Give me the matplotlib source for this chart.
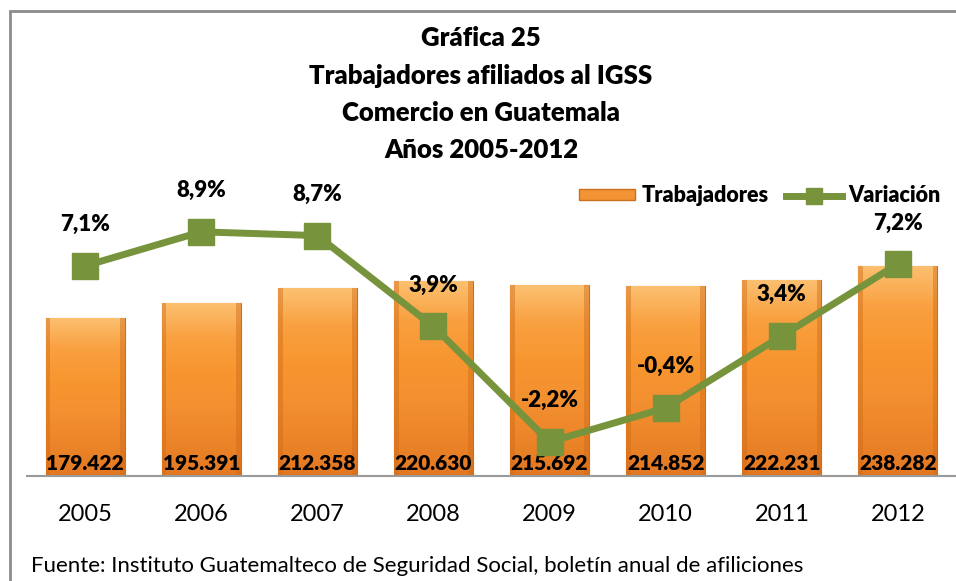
import numpy as np
import matplotlib
matplotlib.use("Agg")
import matplotlib.pyplot as plt
from matplotlib.colors import LinearSegmentedColormap
from matplotlib.lines import Line2D
from matplotlib.patches import Patch, Rectangle

plt.rcParams['font.family'] = ['Lato', 'DejaVu Sans']

years = ['2005', '2006', '2007', '2008', '2009', '2010', '2011', '2012']
trabajadores = [179422, 195391, 212358, 220630, 215692, 214852, 222231, 238282]
variacion = [7.1, 8.9, 8.7, 3.9, -2.2, -0.4, 3.4, 7.2]
bar_labels = ['179.422', '195.391', '212.358', '220.630', '215.692', '214.852', '222.231', '238.282']
var_labels = ['7,1%', '8,9%', '8,7%', '3,9%', '-2,2%', '-0,4%', '3,4%', '7,2%']

green = '#77933C'
fig = plt.figure(figsize=(9.56, 5.81), dpi=100)

# chart border (top and left visible)
fig.add_artist(Rectangle((9.5 / 956, -0.1), 1.2, 1 - 10.5 / 581 + 0.1,
                         transform=fig.transFigure, fill=False,
                         edgecolor='#8c8c8c', linewidth=2))

ax = fig.add_axes([27 / 956, 1 - 476 / 581, 929 / 956, 265 / 581])
x = np.arange(len(years))
bars = ax.bar(x, trabajadores, width=0.68, color='#F39333',
              edgecolor='#C8701E', linewidth=0.8, zorder=2)

cmap = LinearSegmentedColormap.from_list(
    'o', ['#FCC070', '#F9A040', '#F7962F', '#F39031', '#EC8529', '#E27822'])
grad = np.linspace(0, 1, 200).reshape(-1, 1)
for b in bars:
    x0, y0 = b.get_x(), b.get_y()
    w, h = b.get_width(), b.get_height()
    im = ax.imshow(grad, cmap=cmap, aspect='auto', origin='upper',
                   extent=[x0, x0 + w, y0, y0 + h], zorder=2.1)
    im.set_clip_path(b)
    # side shading for bevel look
    ax.add_patch(Rectangle((x0, y0), w * 0.06, h, color='#D06A18', alpha=0.45,
                           zorder=2.2, linewidth=0))
    ax.add_patch(Rectangle((x0 + w * 0.94, y0), w * 0.06, h, color='#D06A18',
                           alpha=0.45, zorder=2.2, linewidth=0))

ax.set_xlim(-0.5, len(years) - 0.5)
ax.set_ylim(0, 300000)
ax.set_yticks([])
for s in ['top', 'right', 'left']:
    ax.spines[s].set_visible(False)
ax.spines['bottom'].set_color('#9a9a9a')
ax.spines['bottom'].set_linewidth(1.5)
ax.set_xticks(x)
ax.set_xticklabels(years, fontsize=17)
ax.tick_params(axis='x', length=0, pad=20)

for xi, lab in zip(x, bar_labels):
    ax.text(xi, 14500, lab, ha='center', va='center', fontsize=15,
            fontweight='heavy', color='black', zorder=6)

ax2 = ax.twinx()
ax2.set_ylim(-4, 10)
ax2.set_yticks([])
for s in ax2.spines.values():
    s.set_visible(False)
ax2.plot(x, variacion, color=green, linewidth=5, marker='s', markersize=19,
         markerfacecolor=green, markeredgecolor=green, zorder=5)
for xi, v, lab in zip(x, variacion, var_labels):
    ax2.annotate(lab, (xi, v), xytext=(0, 22), textcoords='offset points',
                 ha='center', va='bottom', fontsize=16, fontweight='heavy')

handles = [Patch(facecolor='#F39333', edgecolor='#C8701E'),
           Line2D([0], [0], color=green, linewidth=5, marker='s',
                  markersize=12)]
fig.legend(handles, ['Trabajadores', 'Variación'], loc='center',
           bbox_to_anchor=(760 / 956, 1 - 196 / 581), ncol=2, frameon=False,
           prop={'weight': 'heavy', 'size': 15.5}, handlelength=2.6,
           handleheight=0.4, handletextpad=0.3, columnspacing=0.8)

title = ['Gráfica 25', 'Trabajadores afiliados al IGSS',
         'Comercio en Guatemala', 'Años 2005-2012']
for i, t in enumerate(title):
    fig.text(481 / 956, 1 - (38 + i * 37.5) / 581, t, ha='center',
             va='center', fontsize=18.5, fontweight='heavy')

fig.text(31 / 956, 1 - 566 / 581,
         'Fuente: Instituto Guatemalteco de Seguridad Social, boletín anual de afiliciones',
         ha='left', va='center', fontsize=16)

fig.savefig('out.png', dpi=100)
